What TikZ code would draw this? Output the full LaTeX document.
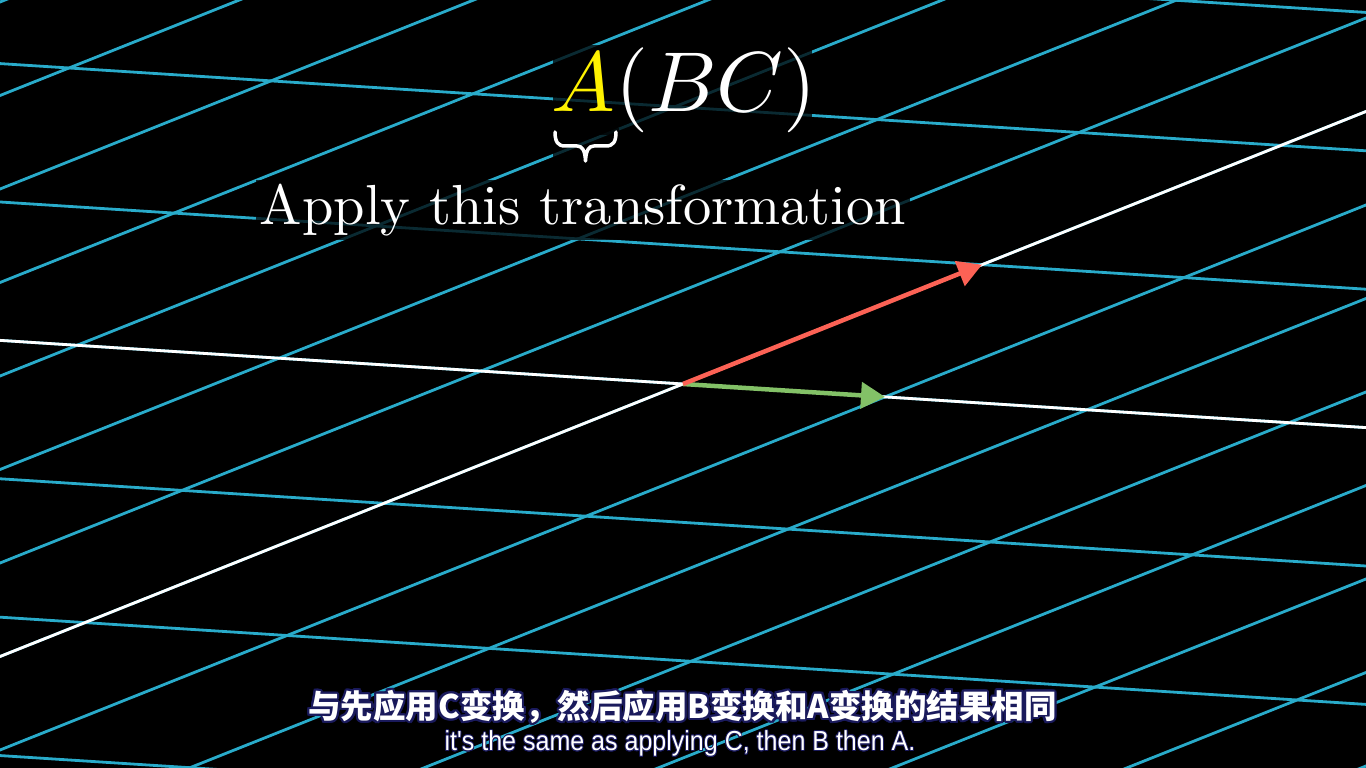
\documentclass[tikz,border=0pt]{standalone}
\usepackage{fontspec}
\usepackage{contour}
\usetikzlibrary{arrows.meta}
\newfontfamily\cjk{Noto Sans CJK SC}
\newfontfamily\subfont{Liberation Sans}
\definecolor{gridblue}{HTML}{29ABCA}
\definecolor{vred}{HTML}{FC6255}
\definecolor{vgreen}{HTML}{83C167}
\definecolor{mathyellow}{HTML}{FFF200}
\definecolor{subnavy}{HTML}{1A1A5C}
\tikzset{
  gridline/.style={gridblue, line width=2.8pt},
  axisline/.style={white, line width=2.8pt},
  vecred/.style={vred, line width=4.5pt, -{Triangle[length=24pt,width=26pt]}},
  vecgreen/.style={vgreen, line width=4.5pt, -{Triangle[length=24pt,width=26pt]}},
  backdrop/.style={black, fill opacity=0.75},
  bracestyle/.style={white, line width=3.5pt, line cap=round, line join=round},
}
\begin{document}
\begin{tikzpicture}[x=1pt,y=1pt]
\fill[black] (0,0) rectangle (1366,768);
\useasboundingbox (0,0) rectangle (1366,768);
\begin{scope}
\clip (0,0) rectangle (1366,768);
\begin{scope}[shift={(683,384)}, x={(202pt,-12.9pt)}, y={(299pt,119.3pt)}]
  \foreach \a in {-12,...,12} \draw[gridline] (\a,-8) -- (\a,8);
  \foreach \b in {-8,...,8} \draw[gridline] (-12,\b) -- (12,\b);
  \draw[axisline] (0,-8) -- (0,8);
  \draw[axisline] (-12,0) -- (12,0);
  \coordinate (O) at (0,0);
  \coordinate (I) at (1,0);
  \coordinate (J) at (0,1);
\end{scope}
\end{scope}
% dimming behind the texts
\fill[backdrop] (553,633) rectangle (812,723);
\fill[backdrop] (553,603) rectangle (619,640);
\fill[backdrop] (256,528) rectangle (910,588);
% vectors
\draw[vecgreen] (O) -- (I);
\draw[vecred] (O) -- (J);
% title
\node[text=white, scale=8.5] (title) at (684,678) {${\color{mathyellow}A}(BC)$};
\coordinate (bl) at (555,636);
\coordinate (br) at (616,636);
\draw[bracestyle] (bl) .. controls (555,626) and (558,622) .. (565,622) -- (577,622)
  .. controls (582,622) and (585,618) .. (585.5,607)
  .. controls (586,618) and (589,622) .. (594,622) -- (606,622)
  .. controls (613,622) and (616,626) .. (br);
\node[text=white, scale=5.65, anchor=base] (apply) at (583,543) {Apply this transformation};
% subtitles
\contourlength{2.2pt}
\node[text=white] (zh) at (682.5,60) {\cjk\bfseries\fontsize{32.5}{38}\selectfont\contour{subnavy}{与先应用C变换，然后应用B变换和A变换的结果相同}};
\contourlength{0.8pt}
\node[text=white, xscale=0.91] (en) at (680,24) {\subfont\fontsize{27.5}{32}\selectfont\contour{subnavy}{it's the same as applying C, then B then A.}};
\end{tikzpicture}
\end{document}
